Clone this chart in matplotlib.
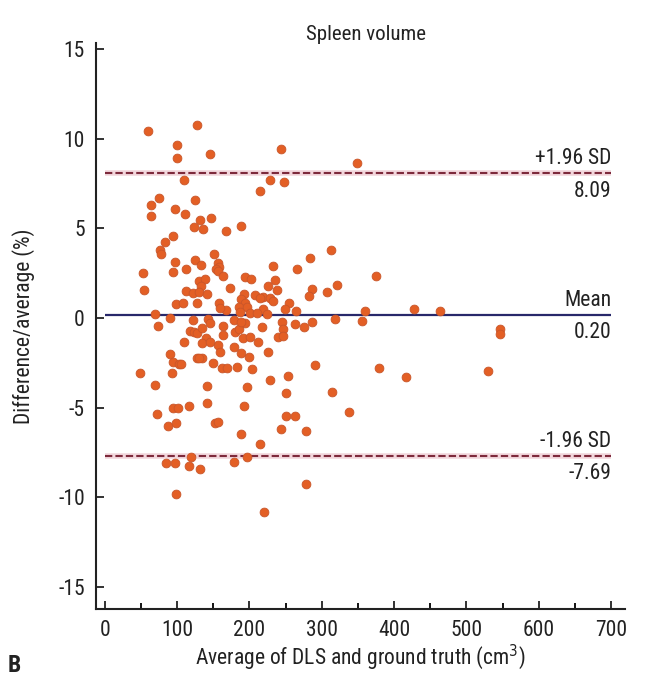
import numpy as np
import matplotlib
matplotlib.use('Agg')
import matplotlib.pyplot as plt

plt.rcParams['font.family'] = ['Roboto Condensed', 'Liberation Sans Narrow', 'Roboto', 'DejaVu Sans']
plt.rcParams['font.stretch'] = 'condensed'
plt.rcParams['axes.unicode_minus'] = False

# Bland-Altman data (average, difference %)
avg_vol = [60, 128, 100, 100, 146, 243, 348, 109, 214, 229, 248, 75, 64, 125, 97, 111, 64, 132, 147,
           123, 136, 168, 189, 94, 83, 77, 78, 151, 97, 125, 156, 158, 154, 157, 164, 53, 94, 113, 133,
           194, 202, 284, 233, 266, 313, 375,
           54, 131, 139, 133, 113, 122, 130, 141, 173, 192, 189, 194, 185, 196, 208, 219, 228, 215, 232,
           98, 108, 127, 158, 168, 160, 187, 70, 90, 143, 236, 225, 238, 286, 282, 307, 219, 224, 201,
           210, 255, 249, 265, 321, 360, 428, 463,
           122, 146, 163, 178, 74, 118, 123, 127, 245, 263, 286, 276, 217, 247, 318, 356, 134, 164, 180,
           185, 240, 247, 140, 134, 157, 160, 191, 201, 212, 179, 226, 189, 199, 134, 150, 162, 169, 183,
           203, 291, 379, 109, 146, 90, 127, 131, 95, 102, 105, 93, 49, 194, 189,
           229, 254, 142, 196, 250, 314, 141, 192, 337, 251, 263, 153, 157, 243, 278, 189, 70, 95, 101,
           117, 72, 87, 99, 215, 85, 97, 119, 116, 132, 179, 196, 99, 220, 278, 416, 546, 546, 530]
diff_pct = [10.43, 10.75, 9.66, 8.94, 9.15, 9.46, 8.66, 7.7, 7.1, 7.72, 7.6, 6.7, 6.3, 6.6, 6.06, 5.8, 5.7, 5.5, 5.6,
            5.09, 4.98, 4.87, 5.13, 4.57, 4.26, 3.79, 3.55, 3.55, 3.14, 3.25, 3.08, 2.86, 2.73, 2.62, 2.34, 2.49, 2.58, 2.75, 2.96,
            2.3, 2.2, 3.38, 2.9, 2.75, 3.8, 2.34,
            1.56, 2.05, 2.16, 1.78, 1.52, 1.41, 1.47, 1.34, 1.69, 1.32, 1.04, 0.82, 0.63, 0.6, 1.28, 1.19, 1.1, 1.1, 0.97,
            0.8, 0.84, 0.84, 0.85, 0.43, 0.54, 0.35, 0.24, 0.02, -0.05, 2.12, 1.78, 1.56, 1.6, 1.23, 1.47, 0.5, 0.25, 0.26,
            0.26, 0.82, 0.49, 0.39, 1.84, 0.41, 0.49, 0.41,
            -0.11, -0.3, -0.45, -0.11, -0.45, -0.7, -0.8, -0.85, -0.2, -0.33, -0.2, -0.52, -0.52, -0.63, -0.06, -0.15, -0.58, -0.95, -0.76,
            -0.63, -1.04, -1.0, -1.13, -1.41, -1.5, -1.88, -1.13, -1.08, -1.32, -1.64, -1.88, -1.97, -2.16, -2.25, -2.53, -2.81, -2.81, -2.72,
            -2.86, -2.62, -2.77, -1.34, -1.32, -2.03, -2.21, -2.21, -2.47, -2.58, -2.55, -3.09, -3.09, -0.3, -0.2,
            -3.46, -3.23, -3.79, -3.83, -4.2, -4.11, -4.72, -4.89, -5.22, -5.45, -5.45, -5.84, -5.78, -6.21, -6.3, -6.49, -3.74, -5.04, -5.04,
            -4.89, -5.35, -6.02, -5.88, -7.05, -8.1, -8.1, -7.73, -8.25, -8.42, -8.05, -7.77, -9.82, -10.84, -9.26, -3.3, -0.61, -0.91, -2.94]

mean_diff = 0.20
upper_loa = 8.09
lower_loa = -7.69

fig = plt.figure(figsize=(6.51, 6.85), dpi=100)
ax = fig.add_axes([0.1475, 0.111, 0.8125, 0.826])

ax.scatter(avg_vol, diff_pct, s=40, color='#e35f25', edgecolors='#c9562a', linewidths=0.6, zorder=3)

ax.hlines(mean_diff, 0, 700, color='#28286a', lw=1.6, zorder=2)
for v in (upper_loa, lower_loa):
    ax.hlines(v, 0, 700, color='#f2d6dc', lw=4, zorder=1)
    ax.hlines(v, 0, 700, color='#7d2a3c', lw=1.5, linestyles=(0, (3.5, 1.5)), zorder=2)

lab_kw = dict(ha='right', fontsize=15.5, color='#222222')
ax.text(700, upper_loa + 0.8, '+1.96 SD', va='center', **lab_kw)
ax.text(700, upper_loa - 1.0, '8.09', va='center', **lab_kw)
ax.text(700, mean_diff + 0.8, 'Mean', va='center', **lab_kw)
ax.text(700, mean_diff - 1.0, '0.20', va='center', **lab_kw)
ax.text(700, lower_loa + 0.8, '-1.96 SD', va='center', **lab_kw)
ax.text(700, lower_loa - 1.0, '-7.69', va='center', **lab_kw)

ax.set_xlim(-12, 719)
ax.set_ylim(-16.23, 15.34)
ax.set_xticks(np.arange(0, 701, 100))
ax.set_xticks(np.arange(50, 700, 100), minor=True)
ax.set_yticks(np.arange(-15, 16, 5))
ax.tick_params(axis='both', which='major', direction='in', length=6, width=1.3, labelsize=15.5, pad=8, colors='#222222')
ax.tick_params(axis='x', which='minor', direction='in', length=4, width=1.3)
ax.spines['top'].set_visible(False)
ax.spines['right'].set_visible(False)
for s in ('left', 'bottom'):
    ax.spines[s].set_linewidth(1.5)
    ax.spines[s].set_color('#222222')

ax.set_xlabel('Average of DLS and ground truth (cm$^3$)', fontsize=15.5, labelpad=1, color='#222222')
ax.set_ylabel('Difference/average (%)', fontsize=15.5, labelpad=17, color='#222222')

fig.text(0.562, 0.949, 'Spleen volume', ha='center', va='center', fontsize=15, color='#222222')
fig.text(0.012, 0.029, 'B', ha='left', va='center', fontsize=17, fontweight='bold', color='#222222')

fig.savefig('out.png', dpi=100)
